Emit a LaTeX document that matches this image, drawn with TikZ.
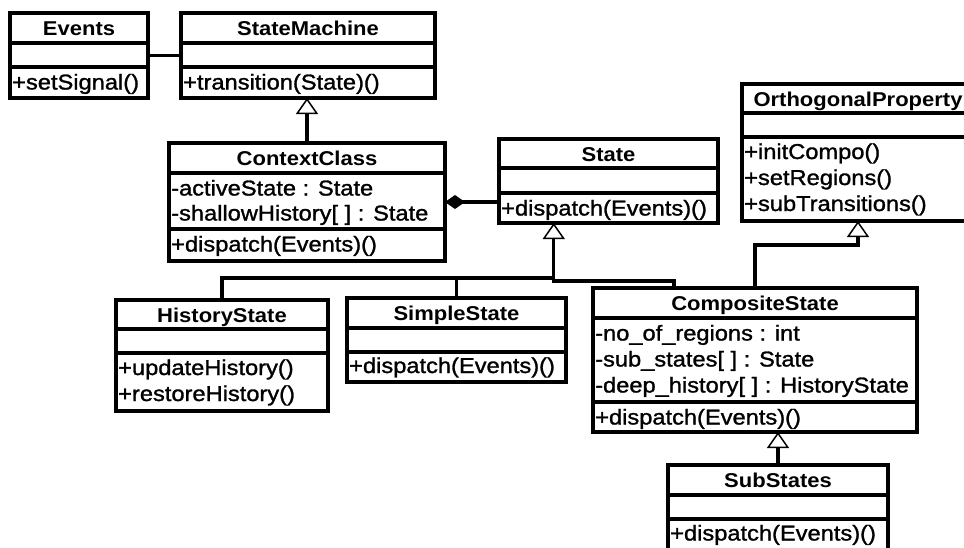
\documentclass[tikz,border=0pt]{standalone}
\usepackage{fontspec}
\setmainfont{Liberation Sans}[FakeStretch=1.1]
\newfontfamily\memberfont{Liberation Sans}[FakeStretch=1.1, FakeBold=1.3]
\usetikzlibrary{arrows.meta,calc}

\begin{document}
\begin{tikzpicture}[x=1pt,y=-1pt,
  cls/.style={draw, rectangle, line width=3.2pt, outer sep=0pt, inner sep=0pt,
              anchor=north west, fill=white},
  sepline/.style={line width=3.2pt},
  title/.style={font=\bfseries\fontsize{20}{24}\selectfont, anchor=base, inner sep=0pt},
  member/.style={font=\memberfont\fontsize{21.5}{24}\selectfont, anchor=base west, inner sep=0pt},
  conn/.style={line width=3.2pt},
  gen/.style={conn, -{Triangle[open, length=16pt, width=22pt, line width=1.5pt]}},
  comp/.style={conn, {Diamond[length=20pt, width=14pt]}-}]

\clip (0,0) rectangle (964,547);
\fill[white] (0,0) rectangle (964,547);

% ---------- Events ----------
\node[cls, minimum width=138pt, minimum height=85pt] (ev) at (10,13) {};
\draw[sepline] (10,43) -- (148,43);
\draw[sepline] (10,67) -- (148,67);
\node[title] (ev-t) at (79,35) {Events};
\node[member] (ev-o1) at (12,89.5) {+setSignal()};

% ---------- StateMachine ----------
\node[cls, minimum width=254pt, minimum height=85pt] (sm) at (181,13) {};
\draw[sepline] (181,43) -- (435,43);
\draw[sepline] (181,67) -- (435,67);
\node[title] (sm-t) at (308,35) {StateMachine};
\node[member] (sm-o1) at (183,89.5) {+transition(State)()};

% ---------- ContextClass ----------
\node[cls, minimum width=276pt, minimum height=118pt] (cc) at (169,143) {};
\draw[sepline] (169,173) -- (445,173);
\draw[sepline] (169,229) -- (445,229);
\node[title] (cc-t) at (307,165) {ContextClass};
\node[member] (cc-a1) at (171,195.5) {-activeState : State};
\node[member] (cc-a2) at (171,220.5) {-shallowHistory[ ] : State};
\node[member] (cc-o1) at (171,251.5) {+dispatch(Events)()};

% ---------- State ----------
\node[cls, minimum width=219pt, minimum height=84pt] (st) at (499,139) {};
\draw[sepline] (499,168) -- (718,168);
\draw[sepline] (499,193) -- (718,193);
\node[title] (st-t) at (608.5,161) {State};
\node[member] (st-o1) at (501,215.5) {+dispatch(Events)()};

% ---------- OrthogonalProperty ----------
\node[cls, minimum width=232pt, minimum height=137pt] (op) at (742,84) {};
\draw[sepline] (742,113) -- (974,113);
\draw[sepline] (742,137) -- (974,137);
\node[title] (op-t) at (858,106) {OrthogonalProperty};
\node[member] (op-o1) at (744,159) {+initCompo()};
\node[member] (op-o2) at (744,185) {+setRegions()};
\node[member] (op-o3) at (744,211) {+subTransitions()};

% ---------- HistoryState ----------
\node[cls, minimum width=212pt, minimum height=111pt] (hs) at (116,300) {};
\draw[sepline] (116,329) -- (328,329);
\draw[sepline] (116,353) -- (328,353);
\node[title] (hs-t) at (222,322) {HistoryState};
\node[member] (hs-o1) at (118,375) {+updateHistory()};
\node[member] (hs-o2) at (118,401) {+restoreHistory()};

% ---------- SimpleState ----------
\node[cls, minimum width=219pt, minimum height=84pt] (ss) at (347,298) {};
\draw[sepline] (347,328) -- (566,328);
\draw[sepline] (347,352) -- (566,352);
\node[title] (ss-t) at (456.5,320) {SimpleState};
\node[member] (ss-o1) at (349,373) {+dispatch(Events)()};

% ---------- CompositeState ----------
\node[cls, minimum width=324pt, minimum height=144pt] (cs) at (593,288) {};
\draw[sepline] (593,318) -- (917,318);
\draw[sepline] (593,402) -- (917,402);
\node[title] (cs-t) at (755,310) {CompositeState};
\node[member] (cs-a1) at (595,340.5) {-no\_of\_regions : int};
\node[member] (cs-a2) at (595,366.5) {-sub\_states[ ] : State};
\node[member] (cs-a3) at (595,392.5) {-deep\_history[ ] : HistoryState};
\node[member] (cs-o1) at (595,424.5) {+dispatch(Events)()};

% ---------- SubStates ----------
\node[cls, minimum width=220pt, minimum height=135pt] (sub) at (668,465) {};
\draw[sepline] (668,495) -- (888,495);
\draw[sepline] (668,519) -- (888,519);
\node[title] (sub-t) at (778,487) {SubStates};
\node[member] (sub-o1) at (670,540.5) {+dispatch(Events)()};

% ---------- Connectors ----------
% association Events -- StateMachine
\draw[conn] (ev.east) -- (sm.west);
% ContextClass generalises StateMachine
\draw[gen] (cc.north) -- (cc.north |- sm.south);
% composition ContextClass <>-- State
\draw[comp] (cc.east) -- (cc.east -| st.west);

% inheritance tree under State
\coordinate (stfoot) at ($(st.south west)!0.25!(st.south east)$);
\coordinate (csfoot) at ($(cs.north west)!0.25!(cs.north east)$);
\coordinate (busy) at (0,278);
\coordinate (j) at (stfoot |- busy);
\draw[conn] (hs.north) |- (j);
\draw[conn] (ss.north) -- (ss.north |- j);
\draw[conn] (j) -- ++(0,3) -| (csfoot);
\draw[gen] (j) -- (stfoot);

% CompositeState generalises OrthogonalProperty
\coordinate (opbend) at (0,245);
\draw[gen] (cs.north) -- (cs.north |- opbend) -| (op.south);

% SubStates generalises CompositeState
\draw[gen] (sub.north) -- (sub.north |- cs.south);

\end{tikzpicture}
\end{document}
